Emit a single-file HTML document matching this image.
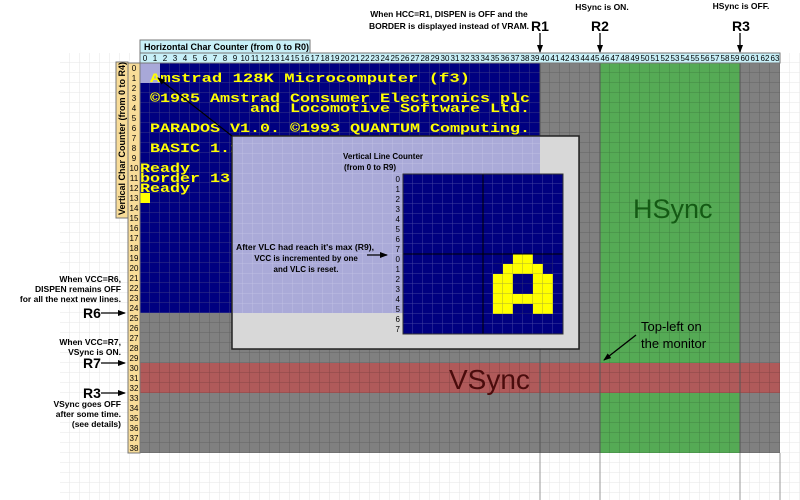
<!DOCTYPE html>
<html><head><meta charset="utf-8"><style>
html,body{margin:0;padding:0;background:#fff;width:800px;height:500px;overflow:hidden}
svg{display:block}
.b{font-family:"Liberation Sans",sans-serif;font-weight:bold;fill:#000}
.n{font-family:"Liberation Sans",sans-serif;font-size:8px;fill:#000}
.s{font-family:"Liberation Mono",monospace;font-weight:bold;font-size:13px;fill:#ffff00}
</style></head><body>
<svg width="800" height="500" viewBox="0 0 800 500" xmlns="http://www.w3.org/2000/svg">
<defs>
<pattern id="bg" x="0" y="3" width="10" height="10" patternUnits="userSpaceOnUse"><path d="M10 0V10M0 10H10" stroke="#e6e6e6" stroke-width="1" fill="none"/></pattern>
<pattern id="gd" x="0" y="3" width="10" height="10" patternUnits="userSpaceOnUse"><path d="M10 0V10M0 10H10" stroke="rgba(0,0,0,0.22)" stroke-width="1" fill="none"/></pattern>
<pattern id="gl" x="0" y="3" width="10" height="10" patternUnits="userSpaceOnUse"><path d="M10 0V10M0 10H10" stroke="rgba(255,255,255,0.22)" stroke-width="1" fill="none"/></pattern>
<pattern id="gi" x="3" y="4" width="10" height="10" patternUnits="userSpaceOnUse"><path d="M10 0V10M0 10H10" stroke="rgba(255,255,255,0.25)" stroke-width="1" fill="none"/></pattern>
<pattern id="gk" x="3" y="4" width="10" height="10" patternUnits="userSpaceOnUse"><path d="M10 0V10M0 10H10" stroke="rgba(0,0,0,0.3)" stroke-width="1" fill="none"/></pattern>
<marker id="ar" markerWidth="8" markerHeight="8" refX="7" refY="4" orient="auto" markerUnits="userSpaceOnUse"><path d="M0 1L8 4L0 7Z" fill="#000"/></marker>
</defs>
<rect x="60" y="53" width="740" height="447" fill="url(#bg)"/>
<path d="M540 453V500M600 453V500M740 453V500M780 453V500" stroke="#999" stroke-width="1"/>
<rect x="140" y="63" width="640" height="390" fill="#808080"/>
<rect x="600" y="63" width="140" height="390" fill="#55aa55"/>
<rect x="140" y="363" width="640" height="30" fill="#b05a5a"/>
<rect x="140" y="63" width="400" height="250" fill="#000080"/>
<rect x="140" y="63" width="640" height="390" fill="url(#gd)"/>
<rect x="140" y="63" width="400" height="250" fill="url(#gl)"/>
<rect x="140" y="63" width="20" height="20" fill="#a8a8d8"/>
<path d="M540 63V453M600 63V453M740 63V453" stroke="#555" stroke-width="1"/>
<text class="s" x="150" y="82" textLength="320" lengthAdjust="spacingAndGlyphs">Amstrad 128K Microcomputer  (f3)</text>
<text class="s" x="150" y="102" textLength="380" lengthAdjust="spacingAndGlyphs">©1985 Amstrad Consumer Electronics plc</text>
<text class="s" x="250" y="112" textLength="280" lengthAdjust="spacingAndGlyphs">and Locomotive Software Ltd.</text>
<text class="s" x="150" y="132" textLength="380" lengthAdjust="spacingAndGlyphs">PARADOS V1.0. ©1993 QUANTUM Computing.</text>
<text class="s" x="150" y="152" textLength="90" lengthAdjust="spacingAndGlyphs">BASIC 1.1</text>
<text class="s" x="140" y="172" textLength="50" lengthAdjust="spacingAndGlyphs">Ready</text>
<text class="s" x="140" y="182" textLength="90" lengthAdjust="spacingAndGlyphs">border 13</text>
<text class="s" x="140" y="192" textLength="50" lengthAdjust="spacingAndGlyphs">Ready</text>
<rect x="140" y="193" width="10" height="10" fill="#ffff00"/>
<rect x="232" y="136" width="347" height="213" fill="#d8d8d8" stroke="#222" stroke-width="1.5"/>
<rect x="233" y="137" width="307" height="176" fill="#aaaad8"/>
<rect x="233" y="137" width="307" height="176" fill="url(#gi)"/>
<rect x="403" y="174" width="160" height="160" fill="#000080"/>
<g fill="#ffff00">
<rect x="513" y="254" width="20" height="10"/>
<rect x="503" y="264" width="40" height="10"/>
<rect x="493" y="274" width="20" height="40"/>
<rect x="533" y="274" width="20" height="40"/>
<rect x="513" y="294" width="20" height="10"/>
</g>
<rect x="403" y="174" width="160" height="160" fill="url(#gi)"/>
<rect x="493" y="254" width="60" height="60" fill="url(#gk)"/>
<path d="M483 174V334M403 254H563" stroke="#000" stroke-width="1"/>
<rect x="403" y="174" width="160" height="160" fill="none" stroke="#333" stroke-width="1"/>
<g class="n" text-anchor="end" font-size="9">
<text x="400" y="182">0</text><text x="400" y="192">1</text><text x="400" y="202">2</text><text x="400" y="212">3</text><text x="400" y="222">4</text><text x="400" y="232">5</text><text x="400" y="242">6</text><text x="400" y="252">7</text>
<text x="400" y="262">0</text><text x="400" y="272">1</text><text x="400" y="282">2</text><text x="400" y="292">3</text><text x="400" y="302">4</text><text x="400" y="312">5</text><text x="400" y="322">6</text><text x="400" y="332">7</text>
</g>
<text class="b" font-size="8" x="343" y="159">Vertical Line Counter</text>
<text class="b" font-size="8" x="344" y="170">(from 0 to R9)</text>
<g class="b" font-size="8" text-anchor="middle">
<text x="305" y="250" textLength="138" lengthAdjust="spacingAndGlyphs">After VLC had reach it's max (R9),</text>
<text x="306" y="261">VCC is incremented by one</text>
<text x="306" y="272">and VLC is reset.</text>
</g>
<line x1="367" y1="255" x2="387" y2="255" stroke="#000" stroke-width="1.3" marker-end="url(#ar)"/>
<line x1="232" y1="136" x2="158" y2="78" stroke="#000" stroke-width="1.2" marker-end="url(#ar)"/>
<text x="633" y="218" font-family="Liberation Sans,sans-serif" font-size="27" fill="#145a14">HSync</text>
<text x="449" y="389" font-family="Liberation Sans,sans-serif" font-size="28" fill="#4a0c0c">VSync</text>
<text x="641" y="331" font-family="Liberation Sans,sans-serif" font-size="13" fill="#000">Top-left on</text>
<text x="641" y="348" font-family="Liberation Sans,sans-serif" font-size="13" fill="#000">the monitor</text>
<line x1="636" y1="335" x2="604" y2="360" stroke="#000" stroke-width="1.3" marker-end="url(#ar)"/>
<rect x="140" y="40" width="170" height="13" fill="#c8f0f8" stroke="#777" stroke-width="1"/>
<text class="b" font-size="9" x="144" y="50">Horizontal Char Counter (from 0 to R0)</text>
<rect x="140" y="53" width="640" height="10" fill="#c8f0f8" stroke="#777" stroke-width="1"/>
<g class="n" text-anchor="middle" font-size="7">
<text x="145" y="61">0</text><text x="155" y="61">1</text><text x="165" y="61">2</text><text x="175" y="61">3</text><text x="185" y="61">4</text><text x="195" y="61">5</text><text x="205" y="61">6</text><text x="215" y="61">7</text><text x="225" y="61">8</text><text x="235" y="61">9</text>
<text x="245" y="61">10</text><text x="255" y="61">11</text><text x="265" y="61">12</text><text x="275" y="61">13</text><text x="285" y="61">14</text><text x="295" y="61">15</text><text x="305" y="61">16</text><text x="315" y="61">17</text><text x="325" y="61">18</text><text x="335" y="61">19</text>
<text x="345" y="61">20</text><text x="355" y="61">21</text><text x="365" y="61">22</text><text x="375" y="61">23</text><text x="385" y="61">24</text><text x="395" y="61">25</text><text x="405" y="61">26</text><text x="415" y="61">27</text><text x="425" y="61">28</text><text x="435" y="61">29</text>
<text x="445" y="61">30</text><text x="455" y="61">31</text><text x="465" y="61">32</text><text x="475" y="61">33</text><text x="485" y="61">34</text><text x="495" y="61">35</text><text x="505" y="61">36</text><text x="515" y="61">37</text><text x="525" y="61">38</text><text x="535" y="61">39</text>
<text x="545" y="61">40</text><text x="555" y="61">41</text><text x="565" y="61">42</text><text x="575" y="61">43</text><text x="585" y="61">44</text><text x="595" y="61">45</text><text x="605" y="61">46</text><text x="615" y="61">47</text><text x="625" y="61">48</text><text x="635" y="61">49</text>
<text x="645" y="61">50</text><text x="655" y="61">51</text><text x="665" y="61">52</text><text x="675" y="61">53</text><text x="685" y="61">54</text><text x="695" y="61">55</text><text x="705" y="61">56</text><text x="715" y="61">57</text><text x="725" y="61">58</text><text x="735" y="61">59</text>
<text x="745" y="61">60</text><text x="755" y="61">61</text><text x="765" y="61">62</text><text x="775" y="61">63</text>
</g>
<rect x="116" y="62" width="12" height="156" fill="#f8dc98" stroke="#777" stroke-width="1"/>
<text class="b" font-size="9" transform="translate(125,215) rotate(-90)">Vertical Char Counter (from 0 to R4)</text>
<rect x="128" y="63" width="12" height="390" fill="#f8dc98" stroke="#777" stroke-width="1"/>
<g class="n" text-anchor="middle" font-size="8.5">
<text x="134" y="71">0</text><text x="134" y="81">1</text><text x="134" y="91">2</text><text x="134" y="101">3</text><text x="134" y="111">4</text><text x="134" y="121">5</text><text x="134" y="131">6</text><text x="134" y="141">7</text><text x="134" y="151">8</text><text x="134" y="161">9</text>
<text x="134" y="171">10</text><text x="134" y="181">11</text><text x="134" y="191">12</text><text x="134" y="201">13</text><text x="134" y="211">14</text><text x="134" y="221">15</text><text x="134" y="231">16</text><text x="134" y="241">17</text><text x="134" y="251">18</text><text x="134" y="261">19</text>
<text x="134" y="271">20</text><text x="134" y="281">21</text><text x="134" y="291">22</text><text x="134" y="301">23</text><text x="134" y="311">24</text><text x="134" y="321">25</text><text x="134" y="331">26</text><text x="134" y="341">27</text><text x="134" y="351">28</text><text x="134" y="361">29</text>
<text x="134" y="371">30</text><text x="134" y="381">31</text><text x="134" y="391">32</text><text x="134" y="401">33</text><text x="134" y="411">34</text><text x="134" y="421">35</text><text x="134" y="431">36</text><text x="134" y="441">37</text><text x="134" y="451">38</text>
</g>
<g class="b" font-size="8.5" text-anchor="end">
<text x="121" y="282">When VCC=R6,</text>
<text x="121" y="292">DISPEN remains OFF</text>
<text x="121" y="302">for all the next new lines.</text>
<text x="121" y="345">When VCC=R7,</text>
<text x="121" y="355">VSync is ON.</text>
<text x="121" y="407">VSync goes OFF</text>
<text x="121" y="417">after some time.</text>
<text x="121" y="427">(see details)</text>
</g>
<g class="b" font-size="14">
<text x="83" y="318">R6</text>
<text x="83" y="368">R7</text>
<text x="83" y="398">R3</text>
</g>
<line x1="101" y1="313" x2="125" y2="313" stroke="#000" stroke-width="1.3" marker-end="url(#ar)"/>
<line x1="101" y1="363" x2="125" y2="363" stroke="#000" stroke-width="1.3" marker-end="url(#ar)"/>
<line x1="101" y1="393" x2="125" y2="393" stroke="#000" stroke-width="1.3" marker-end="url(#ar)"/>
<g class="b" font-size="8.5" text-anchor="middle">
<text x="449" y="17">When HCC=R1, DISPEN is OFF and the</text>
<text x="449" y="29">BORDER is displayed instead of VRAM.</text>
<text x="602" y="10">HSync is ON.</text>
<text x="741" y="9">HSync is OFF.</text>
</g>
<g class="b" font-size="14" text-anchor="middle">
<text x="540" y="31">R1</text>
<text x="600" y="31">R2</text>
<text x="741" y="31">R3</text>
</g>
<line x1="540" y1="33" x2="540" y2="52" stroke="#000" stroke-width="1.3" marker-end="url(#ar)"/>
<line x1="600" y1="33" x2="600" y2="52" stroke="#000" stroke-width="1.3" marker-end="url(#ar)"/>
<line x1="740" y1="33" x2="740" y2="52" stroke="#000" stroke-width="1.3" marker-end="url(#ar)"/>
</svg>
</body></html>
